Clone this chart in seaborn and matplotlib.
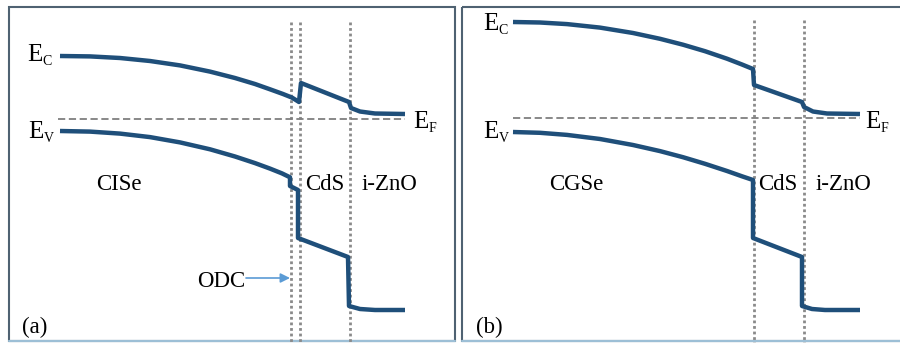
import matplotlib
matplotlib.use("Agg")
import matplotlib.pyplot as plt
import seaborn as sns
import pandas as pd
from matplotlib.patches import Rectangle
from matplotlib import font_manager as fm

sns.set_style("white")
plt.rcParams["font.family"] = ["Liberation Serif", "DejaVu Serif"]
SERIF_PATH = fm.findfont(fm.FontProperties(family="Liberation Serif"))

# ---------------- data (diagram coordinates) ----------------
# Panel (a): CISe / CdS / i-ZnO
a_ec_x = [60, 90, 120, 150, 180, 210, 235, 255, 270, 283, 292, 299, 301, 349, 351, 360, 375, 405]
a_ec_y = [56, 56.4, 58, 61, 65.4, 71.6, 78, 84, 89.3, 94, 97.6, 102, 83, 102, 108, 111.5, 113.5, 114]
a_ev_x = [60, 90, 120, 150, 180, 210, 235, 255, 270, 282, 290, 290, 298, 298, 348, 349, 360, 375, 405]
a_ev_y = [131, 131.6, 133.6, 137.1, 142.4, 149.3, 156.5, 163.1, 168.6, 173.4, 177.3, 186, 190, 238, 257, 306, 309, 310, 310]
a_ef_x = [58, 405]
a_ef_y = [118.5, 118.5]
a_interfaces = [291, 300, 350]

# Panel (b): CGSe / CdS / i-ZnO
b_ec_x = [513, 540, 567, 600, 633, 660, 683, 705, 727, 742, 753, 754, 802, 804, 813, 827, 860]
b_ec_y = [22, 22.5, 24.1, 27.6, 33, 38.8, 44.7, 51.2, 58.7, 64.5, 69, 85, 102, 107, 111.5, 113.5, 114]
b_ev_x = [513, 540, 567, 600, 633, 660, 683, 705, 727, 742, 753, 753, 802, 802, 812, 825, 860]
b_ev_y = [132, 132.8, 134.9, 139, 145, 151.1, 157.2, 163.8, 171, 176.3, 180, 238, 257, 306, 309, 310, 310]
b_ef_x = [513, 860]
b_ef_y = [118, 118]
b_interfaces = [754, 804]

layer_labels_a = ["CISe", "CdS", "i-ZnO"]
layer_labels_b = ["CGSe", "CdS", "i-ZnO"]
panel_labels = ["(a)", "(b)"]

# ---------------- drawing ----------------
fig = plt.figure(figsize=(9, 3.43), dpi=100)
ax = fig.add_axes([0, 0, 1, 1])

band_color = "#1f4f7a"
grid_gray = "#8a8a8a"
frame_color = "#4f6272"

# panel frames
for (x0, x1) in [(9, 455), (462, 906)]:
    ax.add_patch(Rectangle((x0, 7), x1 - x0, 334, fill=False, ec=frame_color, lw=1.5, zorder=1))
    ax.plot([x0, x1], [341, 341], color="#9dbfd6", lw=1.6, zorder=2)

# interface dotted lines
ax.vlines(a_interfaces, 22, 343, colors=grid_gray, linestyles=(0, (1, 1)), lw=2.0, zorder=2)
ax.vlines(b_interfaces, 20, 343, colors=grid_gray, linestyles=(0, (1, 1)), lw=2.0, zorder=2)

# Fermi level
for xs, ys in [(a_ef_x, a_ef_y), (b_ef_x, b_ef_y)]:
    sns.lineplot(x=xs, y=ys, ax=ax, color="#7f7f7f", lw=1.3, linestyle=(0, (4, 2)),
                 sort=False, estimator=None, zorder=2)

# band edges
for xs, ys in [(a_ec_x, a_ec_y), (a_ev_x, a_ev_y), (b_ec_x, b_ec_y), (b_ev_x, b_ev_y)]:
    df = pd.DataFrame({"x": xs, "y": ys})
    sns.lineplot(data=df, x="x", y="y", ax=ax, color=band_color, lw=3.2, sort=False,
                 estimator=None, solid_joinstyle="round", solid_capstyle="butt", zorder=3)

ax.set_xlim(0, 900)
ax.set_ylim(343, 0)
ax.axis("off")

def fp(size):
    return fm.FontProperties(fname=SERIF_PATH, size=size)

# energy labels (E with subscript)
def elabel(x, y, sub):
    ax.text(x, y, "E", fontproperties=fp(18), ha="left", va="baseline", color="black")
    ax.text(x + 15.5, y + 4, sub, fontproperties=fp(10), ha="left", va="baseline", color="black")

elabel(27, 61, "C")
elabel(28, 138, "V")
elabel(413, 128, "F")
elabel(483, 30, "C")
elabel(483, 138, "V")
elabel(865, 128, "F")

def lab(x, y, s):
    ax.text(x, y, s, fontproperties=fp(16.5), va="baseline", color="black")

lab(96, 190, layer_labels_a[0])
lab(305, 190, layer_labels_a[1])
lab(362, 190, layer_labels_a[2])
lab(549, 190, layer_labels_b[0])
lab(758, 190, layer_labels_b[1])
lab(816, 190, layer_labels_b[2])

lab(22, 333, panel_labels[0])
lab(476, 333, panel_labels[1])

lab(197, 287, "ODC")
ax.annotate("", xy=(290, 278), xytext=(246, 278),
            arrowprops=dict(arrowstyle="-|>", color="#5b9bd5", lw=1.2, mutation_scale=14,
                            shrinkA=0, shrinkB=0))

fig.savefig("out.png", dpi=100)
